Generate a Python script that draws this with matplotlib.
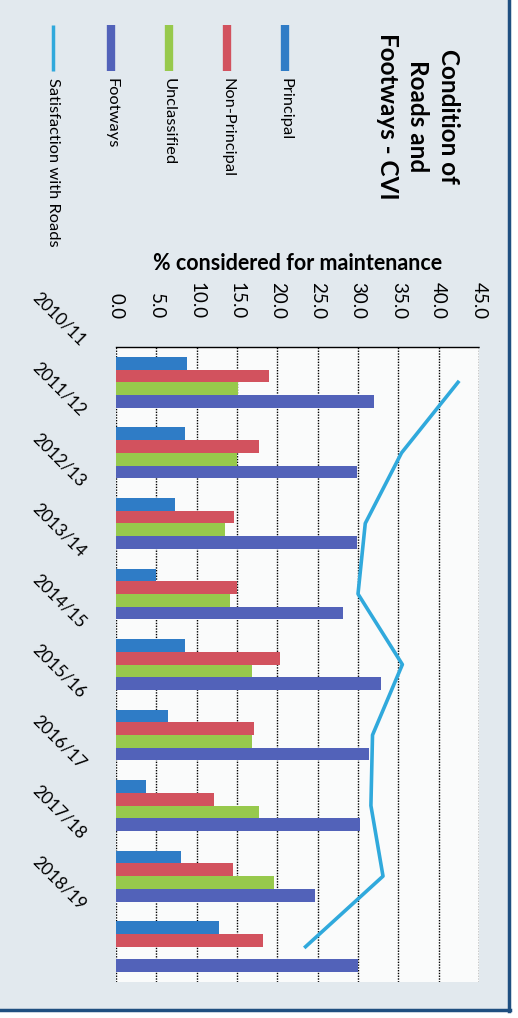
import numpy as np
import matplotlib.pyplot as plt
from matplotlib.lines import Line2D
from matplotlib.patches import Rectangle

plt.rcParams['font.family'] = ['Lato', 'DejaVu Sans']

years = ['2010/11', '2011/12', '2012/13', '2013/14', '2014/15',
         '2015/16', '2016/17', '2017/18', '2018/19']
principal = [8.8, 8.6, 7.3, 5.0, 8.6, 6.5, 3.7, 8.1, 12.8]
non_principal = [19.0, 17.7, 14.6, 15.0, 20.3, 17.1, 12.1, 14.5, 18.2]
unclassified = [15.1, 15.0, 13.5, 14.1, 16.9, 16.8, 17.7, 19.6, np.nan]
footways = [32.0, 29.9, 29.9, 28.1, 32.8, 31.4, 30.2, 24.7, 30.0]
satisfaction = [42.4, 35.4, 30.9, 30.0, 35.5, 31.8, 31.6, 33.1, 23.5]
ticks = [0, 5, 10, 15, 20, 25, 30, 35, 40, 45]

names = ['Principal', 'Non-Principal', 'Unclassified', 'Footways']
colors = ['#2f7cc6', '#d2525e', '#97c94c', '#5262b9']
line_col = '#30a9dc'

W, H = 518, 1018
fig = plt.figure(figsize=(W / 100, H / 100), dpi=100)
fig.patch.set_facecolor('white')


def fx(x):
    return x / W


def fy(y):
    return 1 - y / H


# panel background and border
fig.patches.append(Rectangle((0, fy(1010)), fx(509), 1 - fy(1010),
                             transform=fig.transFigure, facecolor='#e2e9ee',
                             edgecolor='none', zorder=-5))
fig.lines.append(Line2D([fx(509), fx(509)], [fy(0), fy(1011)],
                        transform=fig.transFigure, color='#1f4f80', lw=2.5))
fig.lines.append(Line2D([0, fx(510)], [fy(1010), fy(1010)],
                        transform=fig.transFigure, color='#1f4f80', lw=2.5))

# plot area: value axis horizontal, categories top to bottom
ax = fig.add_axes([fx(116), fy(982), fx(479) - fx(116), fy(347) - fy(982)])
ax.set_facecolor('#fafbfb')
y = np.arange(len(years))
series = [principal, non_principal, unclassified, footways]
h = 0.18
for k, (vals, c) in enumerate(zip(series, colors)):
    ax.barh(y + (k - 1.5) * h, vals, height=h, color=c, zorder=2)
ax.plot(satisfaction, y, color=line_col, lw=2.6, zorder=3)

ax.set_xlim(0, 45)
ax.set_ylim(len(years) - 0.5, -0.5)
ax.set_xticks(ticks)
ax.set_xticklabels(['%.1f' % t for t in ticks])
ax.xaxis.tick_top()
ax.tick_params(axis='x', length=0, pad=20, labelsize=13.5, labelrotation=-90)
ax.set_yticks([])
ax.grid(axis='x', color='black', ls=(0, (1, 1)), lw=1.0, zorder=1)
for s in ['left', 'right', 'bottom']:
    ax.spines[s].set_visible(False)
ax.spines['top'].set_linestyle((0, (1, 1)))
ax.spines['top'].set_linewidth(1.0)

for i, lab in enumerate(years):
    ax.text(-7.0, i - 0.9, lab, rotation=-45, ha='center', va='center',
            fontsize=12.5, clip_on=False)

fig.text(fx(298), fy(263), '% considered for maintenance', ha='center',
         va='center', fontsize=15.5, fontweight='bold')

# title
fig.text(fx(418), fy(116), 'Condition of\nRoads and\nFootways - CVI',
         rotation=-90, ha='center', va='center', multialignment='center',
         fontsize=17.5, fontweight='bold', linespacing=1.4)

# legend
leg_x = [285, 227, 169, 111, 53]
leg_names = names + ['Satisfaction with Roads']
leg_cols = colors + [line_col]
for k, (lx, nm, c) in enumerate(zip(leg_x, leg_names, leg_cols)):
    lw = 6 if k < 4 else 2.5
    fig.lines.append(Line2D([fx(lx), fx(lx)], [fy(25), fy(71)],
                            transform=fig.transFigure, color=c, lw=lw,
                            solid_capstyle='butt'))
    fig.text(fx(lx), fy(78), nm, rotation=-90, ha='center', va='top',
             fontsize=11.8)

fig.savefig('out.png', dpi=100, facecolor=fig.get_facecolor())
